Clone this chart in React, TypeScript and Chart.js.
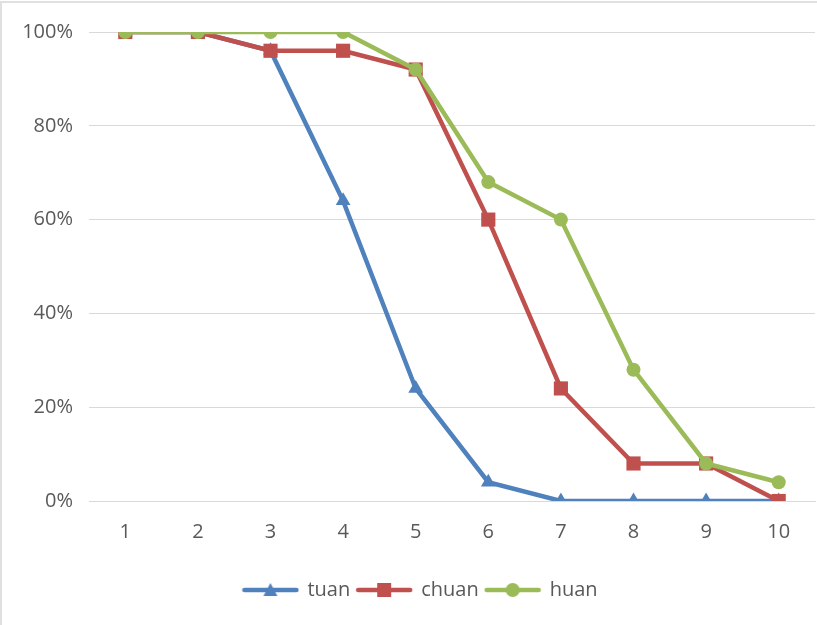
import React, { useEffect, useRef } from "react";
import { Chart, registerables } from "chart.js";

Chart.register(...registerables);

const categories = ["1", "2", "3", "4", "5", "6", "7", "8", "9", "10"];
const tuan = [100, 100, 96, 64, 24, 4, 0, 0, 0, 0];
const chuan = [100, 100, 96, 96, 92, 60, 24, 8, 8, 0];
const huan = [100, 100, 100, 100, 92, 68, 60, 28, 8, 4];
const yTicks = [0, 20, 40, 60, 80, 100];

const BLUE = "#4F81BD";
const RED = "#C0504D";
const GREEN = "#9BBB59";
const TEXT = "#595959";
const GRID = "#d9d9d9";
const FONT = "'Open Sans', sans-serif";

function legendIcon(color: string, style: string): HTMLCanvasElement {
  const c = document.createElement("canvas");
  c.width = 58;
  c.height = 18;
  const ctx = c.getContext("2d")!;
  ctx.strokeStyle = color;
  ctx.fillStyle = color;
  ctx.lineWidth = 4.5;
  ctx.lineCap = "round";
  ctx.beginPath();
  ctx.moveTo(3, 9);
  ctx.lineTo(55, 9);
  ctx.stroke();
  ctx.beginPath();
  if (style === "triangle") {
    ctx.moveTo(29, 2);
    ctx.lineTo(36, 15);
    ctx.lineTo(22, 15);
    ctx.closePath();
  } else if (style === "rect") {
    ctx.rect(22, 2, 14, 14);
  } else {
    ctx.arc(29, 9, 7, 0, Math.PI * 2);
  }
  ctx.fill();
  return c;
}

const legendShift = {
  id: "legendShift",
  afterLayout(chart: any) {
    if (chart.legend) chart.legend.left += 26;
  },
};

export default function App() {
  const ref = useRef<HTMLCanvasElement | null>(null);
  useEffect(() => {
    if (!ref.current) return;
    const series = [
      { label: "tuan", data: tuan, color: BLUE, style: "triangle", radius: 8.5, order: 2 },
      { label: "chuan", data: chuan, color: RED, style: "rect", radius: 10, order: 1 },
      { label: "huan", data: huan, color: GREEN, style: "circle", radius: 7, order: 0 },
    ];
    const icons = series.map((s) => legendIcon(s.color, s.style));
    const chart = new Chart(ref.current, {
      type: "line",
      data: {
        labels: categories,
        datasets: series.map((s) => ({
          label: s.label,
          data: s.data,
          borderColor: s.color,
          backgroundColor: s.color,
          borderWidth: 4.5,
          pointStyle: s.style as any,
          pointRadius: s.radius,
          pointHoverRadius: s.radius,
          pointBorderWidth: 0,
          pointBackgroundColor: s.color,
          tension: 0,
          order: s.order,
        })),
      },
      plugins: [legendShift],
      options: {
        responsive: false,
        animation: false,
        layout: { autoPadding: false, padding: { top: 32, right: 2, bottom: 15, left: 0 } },
        scales: {
          x: {
            offset: true,
            grid: { display: false, drawTicks: false },
            border: { display: true, color: GRID, width: 1 },
            ticks: { color: TEXT, font: { family: FONT, size: 20 }, padding: 19, maxRotation: 0 },
            afterFit: (scale: any) => {
              scale.height = 72;
              scale.paddingLeft = 0;
              scale.paddingRight = 0;
            },
          },
          y: {
            min: 0,
            max: 100,
            afterBuildTicks: (scale: any) => {
              scale.ticks = yTicks.map((v) => ({ value: v }));
            },
            grid: { color: GRID, lineWidth: 1, drawTicks: false },
            border: { display: false },
            ticks: {
              color: TEXT,
              font: { family: FONT, size: 20 },
              padding: 16,
              callback: (v: any) => v + "%",
            },
            afterFit: (scale: any) => {
              scale.width = 89;
            },
          },
        },
        plugins: {
          tooltip: { enabled: false },
          legend: {
            position: "bottom",
            labels: {
              color: TEXT,
              font: { family: FONT, size: 20 },
              usePointStyle: true,
              pointStyleWidth: 54,
              padding: 7,
              generateLabels: (ch: any) =>
                ch.data.datasets.map((d: any, i: number) => ({
                  text: d.label,
                  fillStyle: d.borderColor,
                  strokeStyle: d.borderColor,
                  fontColor: TEXT,
                  lineWidth: 0,
                  pointStyle: icons[i],
                  hidden: false,
                  datasetIndex: i,
                })),
            },
          },
        },
      },
    });
    return () => chart.destroy();
  }, []);
  return (
    <div style={{ position: "fixed", left: 0, top: 0, width: 817, height: 625, background: "#fff" }}>
      <canvas ref={ref} width={817} height={625} style={{ position: "absolute", left: 0, top: 0 }} />
      <div
        style={{
          position: "absolute",
          left: 0,
          top: 1,
          width: 817,
          height: 624,
          boxSizing: "border-box",
          borderTop: "2px solid #e0e0e0",
          borderLeft: "2px solid #e0e0e0",
          pointerEvents: "none",
        }}
      />
    </div>
  );
}
